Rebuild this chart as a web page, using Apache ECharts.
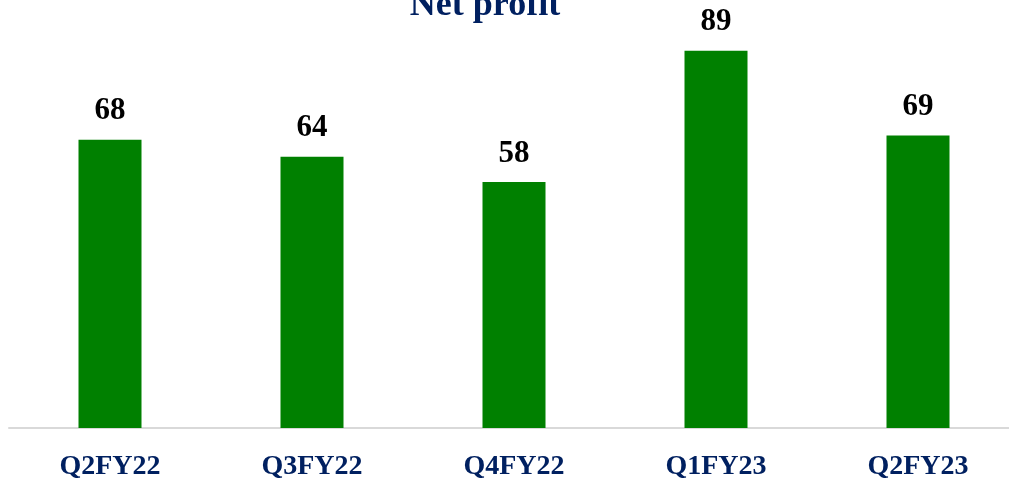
<!DOCTYPE html>
<html>
<head>
<meta charset="utf-8">
<script src="https://cdn.jsdelivr.net/npm/echarts@6/dist/echarts.min.js"></script>
<style>
  html, body { margin: 0; padding: 0; background: #fff; }
  #chart { width: 1009px; height: 483px; }
</style>
</head>
<body>
<div id="chart"></div>
<script>
// quarters and net profit values
const quarters = ['Q2FY22', 'Q3FY22', 'Q4FY22', 'Q1FY23', 'Q2FY23'];
const netProfit = [68, 64, 58, 89, 69];

const SERIF = '"Liberation Serif", "DejaVu Serif", serif';

const chart = echarts.init(document.getElementById('chart'));

const option = {
  animation: false,
  title: {
    text: 'Net profit',
    left: 480,
    top: -17,
    textAlign: 'center',
    textStyle: {
      fontFamily: SERIF,
      fontSize: 36,
      fontWeight: 'bold',
      color: '#002060'
    }
  },
  grid: {
    left: 9,
    top: 4,
    right: -10,
    height: 424,
    containLabel: false,
    outerBoundsMode: 'none'
  },
  xAxis: {
    type: 'category',
    data: quarters,
    axisTick: { show: false },
    axisLine: { lineStyle: { color: '#d9d9d9', width: 2 } },
    axisLabel: {
      margin: 25,
      fontFamily: SERIF,
      fontSize: 28,
      fontWeight: 'bold',
      color: '#002060'
    }
  },
  yAxis: {
    type: 'value',
    min: 0,
    max: 100,
    show: false,
    splitLine: { show: false }
  },
  series: [
    {
      type: 'bar',
      data: netProfit,
      barWidth: 63,
      itemStyle: { color: '#008000' },
      label: {
        show: true,
        position: 'top',
        distance: 13,
        fontFamily: SERIF,
        fontSize: 31,
        fontWeight: 'bold',
        color: '#000'
      }
    }
  ]
};

chart.setOption(option);
</script>
</body>
</html>
